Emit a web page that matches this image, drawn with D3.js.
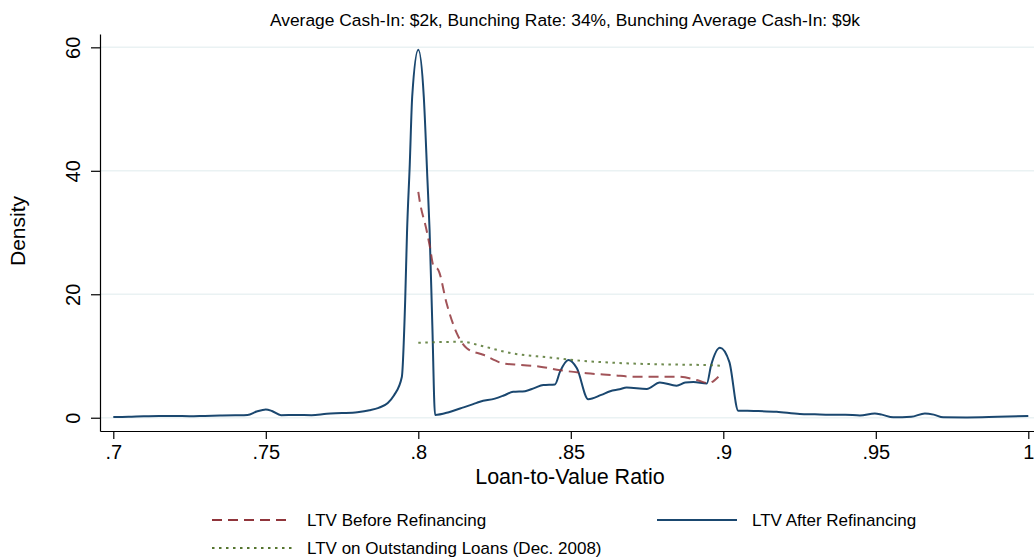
<!DOCTYPE html>
<html>
<head>
  <script src="https://d3js.org/d3.v7.min.js"></script>
  <style>
    body { margin: 0; background: #fff; }
    svg { font-family: Helvetica, Arial, "Liberation Sans", sans-serif; }
    .axis path, .axis line { stroke: #000; stroke-width: 1.2; }
    .axis text { font-size: 20px; fill: #000; }
    .grid line { stroke: #eaf2f3; stroke-width: 1.5; }
  </style>
</head>
<body>
  <div id="chart"></div>
  <script>
    // LTV After Refinancing (kernel density)
    var afterX = [.700, .705, .710, .715, .720, .725, .730, .735, .740, .744, .747, .750, .752, .755,
      .760, .765, .770, .775, .780, .784, .787, .790, .792, .7946, .7957, .7963, .7972, .7980, .8000,
      .8018, .8030, .8037, .8046, .8055, .810, .8137, .818, .8202, .8251, .828, .8311, .835, .838, .841,
      .8448, .8465, .8492, .852, .8557, .860, .8629, .866, .8683, .8749, .8792, .8847, .8875, .8902,
      .8946, .896, .8989, .902, .9049, .910, .9175, .9251, .930, .935, .940, .9448, .9497, .952, .9557,
      .9616, .9661, .969, .9721, .980, .990, 1.000];
    var afterY = [0.10, 0.15, 0.25, 0.30, 0.30, 0.25, 0.30, 0.35, 0.40, 0.45, 1.0, 1.35, 1.1, 0.4,
      0.45, 0.4, 0.65, 0.75, 0.9, 1.2, 1.6, 2.4, 3.6, 6.6, 19, 30, 41, 52, 59.6,
      52, 38.5, 30.4, 15, 0.45, 0.9, 1.5, 2.2, 2.6, 3.1, 3.6, 4.2, 4.3, 4.8, 5.3,
      5.4, 7.5, 9.35, 8.0, 3.0, 3.7, 4.3, 4.6, 4.9, 4.65, 5.7, 5.2, 5.7, 5.8,
      5.55, 8.5, 11.35, 9, 1.15, 1.1, 0.97, 0.6, 0.55, 0.5, 0.5, 0.35, 0.7, 0.5, 0.06,
      0.15, 0.7, 0.5, 0.06, 0.05, 0.15, 0.27];

    // LTV Before Refinancing
    var beforeX = [.8000, .8004, .8027, .8038, .8049, .8066, .8093, .8126, .8159, .8213, .8279, .8333,
      .8399, .8465, .8552, .8639, .8705, .8782, .8847, .8913, .8951, .8984];
    var beforeY = [36.6, 35.3, 30.4, 27.7, 24.7, 23.9, 18.5, 13.7, 11.25, 10.2, 8.8, 8.55,
      8.27, 7.7, 7.2, 6.9, 6.65, 6.65, 6.65, 6.1, 5.6, 6.65];

    // LTV on Outstanding Loans (Dec. 2008)
    var outstandingX = [.800, .8148, .8202, .8311, .842, .853, .8639, .8749, .8858, .8967, .900];
    var outstandingY = [12.15, 12.3, 11.7, 10.4, 9.8, 9.25, 8.9, 8.7, 8.6, 8.5, 8.4];

    var xTicks = [.7, .75, .8, .85, .9, .95, 1];
    var xTickLabels = [".7", ".75", ".8", ".85", ".9", ".95", "1"];
    var yTicks = [0, 20, 40, 60];

    var seriesNames = ["LTV Before Refinancing", "LTV After Refinancing", "LTV on Outstanding Loans (Dec. 2008)"];
    var titleText = "Average Cash-In: $2k, Bunching Rate: 34%, Bunching Average Cash-In: $9k";

    var W = 1034, H = 558;
    var svg = d3.select("#chart").append("svg").attr("width", W).attr("height", H);

    var x = d3.scaleLinear().domain([.69564, 1.00187]).range([100, 1034]);
    var y = d3.scaleLinear().domain([-2.15, 62.16]).range([431, 34]);

    // gridlines
    svg.append("g").attr("class", "grid")
      .selectAll("line").data(yTicks).enter().append("line")
      .attr("x1", 100).attr("x2", 1034)
      .attr("y1", function(d) { return y(d); })
      .attr("y2", function(d) { return y(d); });

    // axes
    svg.append("g").attr("class", "axis")
      .attr("transform", "translate(0,431)")
      .call(d3.axisBottom(x).tickValues(xTicks).tickSize(8).tickSizeOuter(0).tickPadding(6)
        .tickFormat(function(d, i) { return xTickLabels[i]; }));

    var yAxis = svg.append("g").attr("class", "axis")
      .attr("transform", "translate(100,0)")
      .call(d3.axisLeft(y).tickValues(yTicks).tickSize(9).tickSizeOuter(0).tickFormat(d3.format("d")));
    yAxis.selectAll(".tick text")
      .attr("x", 0).attr("dy", null)
      .attr("text-anchor", "middle")
      .attr("transform", "translate(-20,0) rotate(-90)");

    // lines
    function lineFor(xs, ys) {
      return d3.line()
        .x(function(d, i) { return x(xs[i]); })
        .y(function(d, i) { return y(ys[i]); })
        .curve(d3.curveMonotoneX)(xs);
    }

    svg.append("path").attr("d", lineFor(afterX, afterY))
      .attr("fill", "none").attr("stroke", "#1a476f").attr("stroke-width", 2);
    svg.append("path").attr("d", lineFor(beforeX, beforeY))
      .attr("fill", "none").attr("stroke", "#90353b").attr("stroke-width", 2)
      .attr("stroke-dasharray", "10,6").attr("stroke-opacity", 0.85);
    svg.append("path").attr("d", lineFor(outstandingX, outstandingY))
      .attr("fill", "none").attr("stroke", "#55752f").attr("stroke-width", 2)
      .attr("stroke-dasharray", "2.5,4.5").attr("stroke-opacity", 0.85);

    // labels
    svg.append("text").attr("x", 565).attr("y", 26)
      .attr("text-anchor", "middle").attr("font-size", 17.4).text(titleText);
    svg.append("text").attr("x", 570).attr("y", 484)
      .attr("text-anchor", "middle").attr("font-size", 21.5).text("Loan-to-Value Ratio");
    svg.append("text").attr("transform", "translate(25,231) rotate(-90)")
      .attr("text-anchor", "middle").attr("font-size", 21).text("Density");

    // legend
    var legend = [
      { name: seriesNames[0], color: "#90353b", dash: "10,6", x: 212, y: 520 },
      { name: seriesNames[1], color: "#1a476f", dash: null, x: 657, y: 520 },
      { name: seriesNames[2], color: "#55752f", dash: "2.5,4.5", x: 212, y: 548 }
    ];
    var lg = svg.append("g").selectAll("g").data(legend).enter().append("g");
    lg.append("line")
      .attr("x1", function(d) { return d.x; })
      .attr("x2", function(d) { return d.x + 80; })
      .attr("y1", function(d) { return d.y; })
      .attr("y2", function(d) { return d.y; })
      .attr("stroke", function(d) { return d.color; })
      .attr("stroke-width", 2)
      .attr("stroke-dasharray", function(d) { return d.dash; });
    lg.append("text")
      .attr("x", function(d) { return d.x + 95; })
      .attr("y", function(d) { return d.y + 6; })
      .attr("font-size", 17)
      .text(function(d) { return d.name; });
  </script>
</body>
</html>
